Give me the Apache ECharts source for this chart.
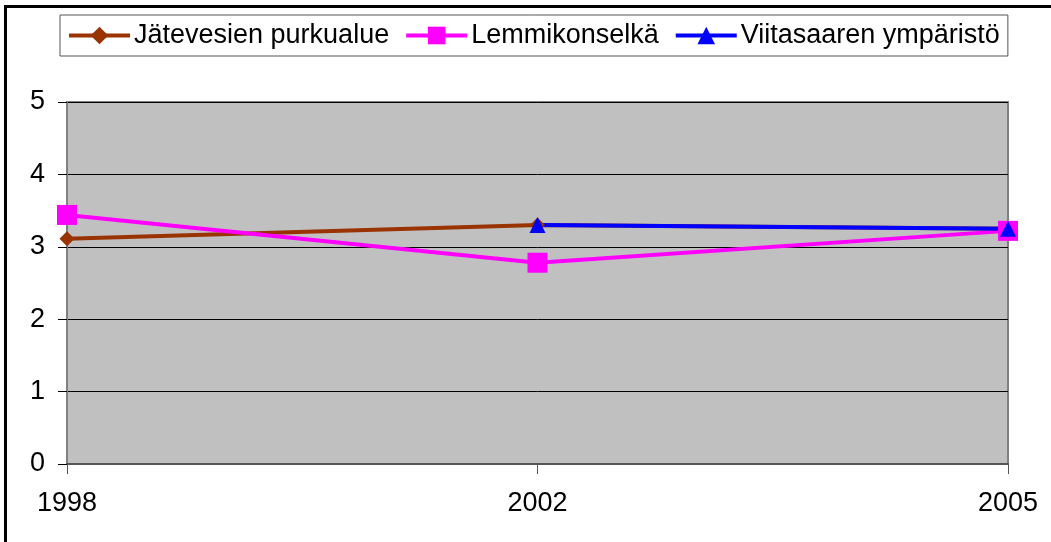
<!DOCTYPE html>
<html>
<head>
<meta charset="utf-8">
<script src="https://cdn.jsdelivr.net/npm/echarts@6/dist/echarts.min.js"></script>
<style>html,body{margin:0;padding:0;background:#fff}#c{width:1051px;height:542px}</style>
</head>
<body>
<div id="c"></div>
<script>
const categories = ['1998', '2002', '2005'];
const jatevesien = [3.11, 3.30, 3.25];
const lemmikonselka = [3.44, 2.78, 3.22];
const viitasaaren = [null, 3.30, 3.25];
const seriesNames = ['Jätevesien purkualue', 'Lemmikonselkä', 'Viitasaaren ympäristö'];

const chart = echarts.init(document.getElementById('c'), null, {renderer: 'canvas'});
const font = 'Liberation Sans, Arial, sans-serif';
chart.setOption({
  backgroundColor: '#fff',
  animation: false,
  graphic: [{
    type: 'rect', shape: {x: 5.5, y: 6.5, width: 1100, height: 600},
    style: {fill: null, stroke: '#000', lineWidth: 3}, z: 100
  }],
  legend: {
    left: 60, top: 15,
    padding: [7, 8, 7, 7],
    borderColor: '#555', borderWidth: 1,
    itemWidth: 61, itemHeight: 22, itemGap: 15,
    lineStyle: {width: 4},
    textStyle: {fontFamily: font, fontSize: 27, color: '#000', padding: [0, 0, 0, -1]},
    data: seriesNames
  },
  grid: {
    left: 67, right: 43, top: 102, bottom: 78,
    show: true, backgroundColor: '#C0C0C0', borderColor: '#808080', borderWidth: 2
  },
  xAxis: {
    type: 'category', data: categories, boundaryGap: false,
    axisLine: {show: true, lineStyle: {color: '#555', width: 2}},
    axisTick: {show: true, length: 10, lineStyle: {color: '#555'}},
    axisLabel: {fontFamily: font, fontSize: 27, color: '#000', margin: 26}
  },
  yAxis: {
    type: 'value', min: 0, max: 5, interval: 1,
    axisLine: {show: true, lineStyle: {color: '#808080', width: 2}},
    axisTick: {show: true, length: 9, lineStyle: {color: '#000'}},
    axisLabel: {fontFamily: font, fontSize: 27, color: '#000', margin: 22},
    splitLine: {show: true, lineStyle: {color: '#000', width: 1}}
  },
  series: [
    {name: seriesNames[0], type: 'line', data: jatevesien, color: '#993300',
     symbol: 'diamond', symbolSize: 15, lineStyle: {width: 4}},
    {name: seriesNames[1], type: 'line', data: lemmikonselka, color: '#FF00FF',
     symbol: 'rect', symbolSize: 20, lineStyle: {width: 4}},
    {name: seriesNames[2], type: 'line', data: viitasaaren, color: '#0000FF',
     symbol: 'triangle', symbolSize: 16, lineStyle: {width: 4}}
  ]
});
</script>
</body>
</html>
